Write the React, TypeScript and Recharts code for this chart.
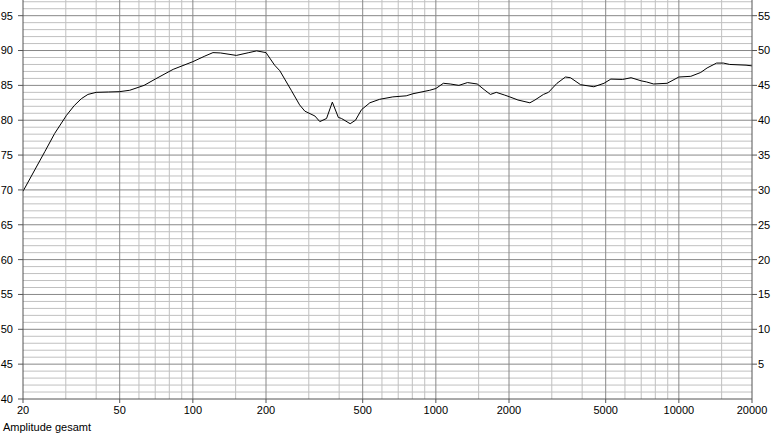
import React from "react";
import { LineChart, Line, XAxis, YAxis, ReferenceLine } from "recharts";

// frequency (Hz) and level (dB)
const freq = [
  20, 24.6, 27, 30.2, 32.5, 34.8, 37, 40, 45, 50, 55, 63, 70, 83, 100, 112, 121, 130, 151, 170, 183, 200,
  217, 228, 254, 275, 289, 318, 333, 355, 375, 397, 409, 444, 467, 494, 535, 587,
  665, 755, 805, 944, 1000, 1074, 1146, 1244, 1349, 1480, 1579, 1677, 1773, 1922,
  2014, 2177, 2438, 2557, 2772, 2907, 3152, 3415, 3580, 3940, 4470, 4920, 5250,
  5870, 6360, 7000, 7350, 7870, 8950, 10000, 11200, 12300, 13070, 14300, 15250,
  16200, 18900, 20000,
];
const level = [
  69.8, 75.5, 78.1, 80.7, 82.1, 83.1, 83.7, 84.0, 84.05, 84.1, 84.3, 85.0, 85.9, 87.3, 88.4, 89.2, 89.7, 89.65, 89.3, 89.7, 89.95, 89.7,
  87.9, 87.1, 84.3, 82.2, 81.3, 80.6, 79.8, 80.25, 82.6, 80.4, 80.25, 79.5, 80.0, 81.5, 82.5, 83.0,
  83.35, 83.5, 83.8, 84.3, 84.55, 85.3, 85.2, 85.0, 85.4, 85.2, 84.4, 83.7, 84.0, 83.6,
  83.35, 82.9, 82.5, 82.9, 83.7, 84.0, 85.3, 86.2, 86.1, 85.1, 84.8, 85.3, 85.9,
  85.85, 86.1, 85.65, 85.5, 85.2, 85.3, 86.2, 86.3, 86.85, 87.5, 88.2, 88.2,
  88.0, 87.9, 87.8,
];

const xTicks = [20, 50, 100, 200, 500, 1000, 2000, 5000, 10000, 20000];
const leftTicks = [40, 45, 50, 55, 60, 65, 70, 75, 80, 85, 90, 95];
const rightTicks = [5, 10, 15, 20, 25, 30, 35, 40, 45, 50, 55];

const xMajorGrid = [50, 100, 200, 500, 1000, 2000, 5000, 10000];
const xMinorGrid = [
  30, 40, 60, 70, 80, 90, 150, 300, 400, 600, 700, 800, 900, 1500,
  3000, 4000, 6000, 7000, 8000, 9000, 15000,
];
const yMajorGrid = [45, 50, 55, 60, 65, 70, 75, 80, 85, 90, 95];
const yMinorGrid = [
  41, 42, 43, 44, 46, 47, 48, 49, 51, 52, 53, 54, 56, 57, 58, 59, 61, 62, 63, 64,
  66, 67, 68, 69, 71, 72, 73, 74, 76, 77, 78, 79, 81, 82, 83, 84, 86, 87, 88, 89,
  91, 92, 93, 94, 96, 97,
];

const data = freq.map((f, i) => ({ f, db: level[i] }));

const FONT = "'Liberation Sans', Arial, sans-serif";
const tickStyle = { fontSize: 11, fill: "#000", fontFamily: FONT };
const MINOR = "#c0c0c0";
const MAJOR = "#888";
const AXIS = "#555";

export default function App() {
  return (
    <div style={{ position: "absolute", left: 0, top: 0, width: 774, height: 439, background: "#fff" }}>
      <LineChart width={774} height={439} data={data} margin={{ top: 0, right: 0, bottom: 0, left: 0 }}>
        <XAxis
          dataKey="f"
          type="number"
          scale="log"
          domain={[20, 20000]}
          ticks={xTicks}
          allowDataOverflow
          height={40}
          tickSize={4}
          tickMargin={3}
          tick={tickStyle}
          stroke={AXIS}
          interval={0}
        />
        <YAxis
          yAxisId="left"
          domain={[40, 97.25]}
          ticks={leftTicks}
          allowDataOverflow
          width={23}
          tickSize={5}
          tickMargin={5}
          tick={tickStyle}
          stroke={AXIS}
          interval={0}
        />
        <YAxis
          yAxisId="right"
          orientation="right"
          domain={[0, 57.25]}
          ticks={rightTicks}
          allowDataOverflow
          width={22}
          tickSize={5}
          tickMargin={1}
          tick={tickStyle}
          stroke={AXIS}
          interval={0}
        />
        {yMinorGrid.map((v) => (
          <ReferenceLine key={"ym" + v} yAxisId="left" y={v} stroke={MINOR} ifOverflow="hidden" />
        ))}
        {xMinorGrid.map((v) => (
          <ReferenceLine key={"xm" + v} yAxisId="left" x={v} stroke={MINOR} />
        ))}
        {yMajorGrid.map((v) => (
          <ReferenceLine key={"yM" + v} yAxisId="left" y={v} stroke={MAJOR} />
        ))}
        {xMajorGrid.map((v) => (
          <ReferenceLine key={"xM" + v} yAxisId="left" x={v} stroke={MAJOR} />
        ))}
        <Line
          yAxisId="left"
          dataKey="db"
          type="linear"
          stroke="#000"
          strokeWidth={1}
          dot={false}
          isAnimationActive={false}
        />
      </LineChart>
      <svg style={{ position: "absolute", left: 0, top: 0 }} width={774} height={439} pointerEvents="none">
        <text x={3} y={431} fontSize={11} fontFamily={FONT} fill="#000">
          Amplitude gesamt
        </text>
      </svg>
    </div>
  );
}
